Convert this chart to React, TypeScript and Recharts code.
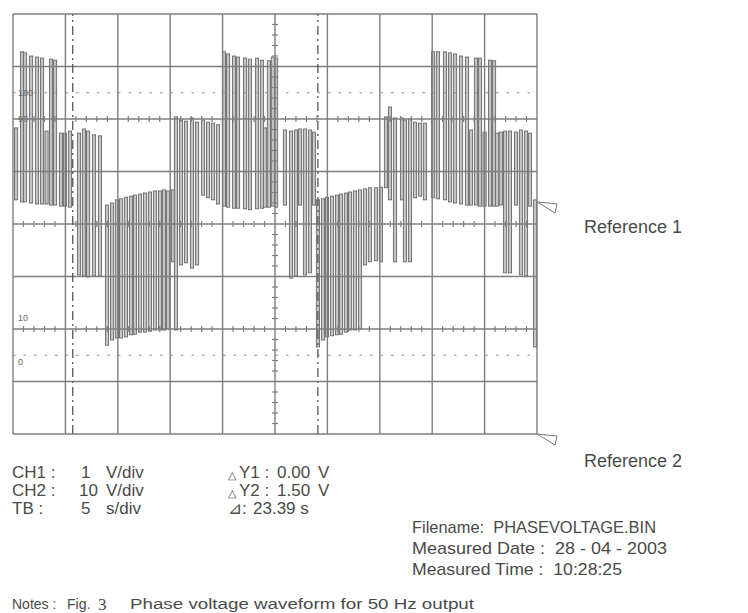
import React from "react";
import {
  ComposedChart,
  Bar,
  Scatter,
  XAxis,
  YAxis,
  ReferenceLine,
  ReferenceDot,
} from "recharts";

// screen: 10 div x 5 s/div, 8 div x 10 V/div
const timeTicks = [0, 5, 10, 15, 20, 25, 30, 35, 40, 45, 50];
const voltTicks = [-40, -30, -20, -10, 0, 10, 20, 30, 40];

// PWM pulses: time (s), upper and lower edge (V)
const pulseTime = [
  0.29, 0.86, 1.15, 1.72, 2.29, 2.77, 3.2, 3.63, 4.01,
  4.58, 4.96, 5.44,
  6.3, 6.77, 7.16, 7.73, 8.3,
  8.97, 9.45, 9.92, 10.31, 10.78, 11.26, 11.64, 12.12, 12.6, 13.07, 13.55, 14.03, 14.41, 14.79,
  15.27, 15.55, 16.03, 16.51, 17.08, 17.56,
  18.13, 18.61, 19.08, 19.56,
  20.13, 20.52, 21.09, 21.47, 22.14, 22.61, 23.28, 23.76, 24.06, 24.42, 24.8, 25.1,
  25.95, 26.53, 27.0, 27.39, 27.86, 28.34, 28.72,
  29.1, 29.58, 29.96, 30.44, 30.92, 31.3, 31.77, 32.16, 32.63, 33.11, 33.59, 34.06, 34.64, 35.11,
  35.59, 35.97, 36.45, 37.12, 37.4, 37.88, 38.36, 38.84, 39.31,
  40.08, 40.55, 41.22, 41.7, 42.18, 42.75, 43.32, 43.7, 44.18, 44.56, 45.0, 45.52, 45.9, 46.2,
  46.55, 46.95, 47.42, 48.0, 48.47, 48.95, 49.33, 49.81,
];
const pulseHigh = [
  18.3, 32.8, 32.6, 32.0, 31.8, 31.6, 17.7, 31.4, 31.2,
  17.3, 17.3, 17.7,
  17.3, 18.1, 17.7, 17.0, 16.8,
  3.6, 4.0, 4.6, 4.8, 5.1, 5.3, 5.5, 5.7, 5.9, 6.1, 6.3, 6.3, 6.5, 6.3,
  6.5, 20.4, 19.8, 19.6, 20.2, 19.4,
  19.8, 19.4, 19.2, 18.9,
  32.8, 32.4, 32.0, 31.8, 31.6, 31.4, 31.6, 31.2, 18.3, 31.1, 31.8, 31.6,
  17.9, 17.7, 17.9, 18.1, 18.1, 17.9, 17.5,
  4.6, 4.8, 5.1, 5.3, 5.5, 5.7, 5.9, 6.1, 6.3, 6.5, 6.7, 6.9, 6.9, 7.0,
  20.4, 22.3, 20.2, 20.2, 19.8, 20.0, 19.4, 19.2, 19.2,
  32.8, 32.8, 32.8, 32.6, 32.4, 32.0, 31.8, 17.9, 31.6, 31.6, 17.5, 31.2, 31.1, 17.3,
  17.5, 17.7, 17.7, 17.5, 17.9, 17.7, 17.3, 4.6,
];
const pulseLow = [
  4.6, 4.2, 4.2, 4.0, 3.8, 3.8, 3.8, 3.6, 3.6,
  3.4, 3.4, 3.2,
  -9.7, -9.9, -10.1, -9.9, -9.9,
  -23.1, -22.1, -21.7, -21.7, -21.5, -21.1, -21.0, -20.6, -20.6, -20.4, -20.2, -20.2, -20.2, -20.0,
  -7.2, -20.2, -7.8, -7.4, -8.4, -7.8,
  5.5, 5.0, 4.6, 3.8,
  3.4, 3.2, 3.0, 3.0, 2.9, 2.7, 2.9, 3.0, 3.2, 3.2, 3.4, 3.2,
  3.6, -10.3, -9.9, 3.6, -9.7, -9.3, 3.6,
  -23.4, -22.1, -21.5, -21.3, -21.1, -21.0, -20.6, -20.2, -20.2, -20.0, -7.8, -7.2, -7.0, -7.2,
  6.9, 4.6, -7.2, 4.6, -7.2, -7.2, 5.0, 5.3, 4.6,
  5.0, 4.8, 4.6, 4.2, 4.0, 3.8, 3.6, 3.6, 3.6, 3.4, 3.4, 3.4, 3.4, 3.4,
  3.6, -9.3, -9.3, 3.6, -9.7, -9.9, 3.4, -23.4,
];

const cursorTimes = [5.7, 29.09];
const dottedLevels = [25, -25];
const tickedLevels = [20, 0, -20];
const labelLevels = [25, 20, -20, -25];
const labelTexts = ["100", "90", "10", "0"];
const refLevels = [4.2, -40];

const pulses = pulseTime.map((t, i) => ({ t, range: [pulseLow[i], pulseHigh[i]] }));

// minor division marks, 5 per division
const minorTimes = timeTicks.slice(0, -1).flatMap((t) => [1, 2, 3, 4].map((k) => t + k));
const minorVolts = voltTicks.slice(0, -1).flatMap((v) => [2, 4, 6, 8].map((k) => v + k));
const hTicks = tickedLevels.flatMap((v) => minorTimes.map((t) => ({ t, v })));
const vTicks = minorVolts.map((v) => ({ t: 25, v }));

const GRID = "#7e7e7e";
const INK = "#4a4a4a";
const FONT = "'Liberation Sans', Arial, sans-serif";

const PulseShape = (props: any) => {
  const { x, y, width, height } = props;
  if (height == null || isNaN(y)) return null;
  const cx = x + width / 2;
  return (
    <rect x={cx - 1.6} y={y} width={3.2} height={height} fill="#c4c4c4" stroke="#6a6a6a" strokeWidth={0.9} />
  );
};

const labelDy = [3, 3, -8, 10];

const App = () => {
  return (
    <div style={{ position: "absolute", left: 0, top: 0, width: 748, height: 613, background: "#fff" }}>
      <ComposedChart
        width={748}
        height={613}
        data={pulses}
        margin={{ top: 14, left: 13, right: 211, bottom: 179 }}
      >
        <XAxis dataKey="t" type="number" domain={[0, 50]} hide allowDataOverflow />
        <YAxis type="number" domain={[-40, 40]} hide allowDataOverflow />
        {timeTicks.map((t) => (
          <ReferenceLine key={"gx" + t} x={t} stroke={GRID} strokeWidth={1.4} />
        ))}
        {voltTicks.map((v) => (
          <ReferenceLine key={"gy" + v} y={v} stroke={GRID} strokeWidth={1.4} />
        ))}
        {dottedLevels.map((v) => (
          <ReferenceLine key={"d" + v} y={v} stroke="#8c8c8c" strokeWidth={1.2} strokeDasharray="2.5 8" />
        ))}
        {labelLevels.map((v, i) => (
          <ReferenceLine
            key={"l" + v}
            y={v}
            stroke="none"
            label={(p: any) => (
              <text x={p.viewBox.x + 5} y={p.viewBox.y + labelDy[i]} fontSize={9} fill="#666" fontFamily={FONT}>
                {labelTexts[i]}
              </text>
            )}
          />
        ))}
        <Scatter
          data={hTicks}
          dataKey="v"
          isAnimationActive={false}
          shape={(p: any) => <line x1={p.cx} x2={p.cx} y1={p.cy - 3} y2={p.cy + 3} stroke={GRID} strokeWidth={1.2} />}
        />
        <Scatter
          data={vTicks}
          dataKey="v"
          isAnimationActive={false}
          shape={(p: any) => <line x1={p.cx - 3} x2={p.cx + 3} y1={p.cy} y2={p.cy} stroke={GRID} strokeWidth={1.2} />}
        />
        <Bar dataKey="range" barSize={3} isAnimationActive={false} shape={PulseShape} />
        {cursorTimes.map((t) => (
          <ReferenceLine key={"c" + t} x={t} stroke="#555" strokeWidth={1.3} strokeDasharray="9 4 2 4" />
        ))}
        {refLevels.map((v) => (
          <ReferenceDot
            key={"r" + v}
            x={50}
            y={v}
            r={0}
            ifOverflow="visible"
            shape={(p: any) => (
              <polygon
                points={`${p.cx},${p.cy} ${p.cx + 20},${p.cy + 2} ${p.cx + 18},${p.cy + 11}`}
                fill="#fff"
                stroke="#777"
                strokeWidth={1}
              />
            )}
          />
        ))}
      </ComposedChart>
      <svg
        width={748}
        height={613}
        style={{ position: "absolute", left: 0, top: 0, pointerEvents: "none" }}
        fontFamily={FONT}
        fill={INK}
      >
        <text x={584} y={233} fontSize={18}>Reference 1</text>
        <text x={584} y={467} fontSize={18}>Reference 2</text>

        <text x={12} y={478} fontSize={17}>CH1 :</text>
        <text x={81} y={478} fontSize={17}>1</text>
        <text x={106} y={478} fontSize={17}>V/div</text>
        <text x={12} y={496} fontSize={17}>CH2 :</text>
        <text x={79} y={496} fontSize={17}>10</text>
        <text x={106} y={496} fontSize={17}>V/div</text>
        <text x={12} y={514} fontSize={17}>TB :</text>
        <text x={81} y={514} fontSize={17}>5</text>
        <text x={106} y={514} fontSize={17}>s/div</text>

        <text x={228} y={479} fontSize={11}>△</text>
        <text x={239} y={478} fontSize={17}>Y1 :</text>
        <text x={277} y={478} fontSize={17}>0.00</text>
        <text x={318} y={478} fontSize={17}>V</text>
        <text x={228} y={497} fontSize={11}>△</text>
        <text x={239} y={496} fontSize={17}>Y2 :</text>
        <text x={277} y={496} fontSize={17}>1.50</text>
        <text x={318} y={496} fontSize={17}>V</text>
        <text x={228} y={514} fontSize={17}>⊿:</text>
        <text x={253} y={514} fontSize={17}>23.39 s</text>

        <text x={412} y={533} fontSize={17} textLength={244} lengthAdjust="spacingAndGlyphs" xmlSpace="preserve">
          Filename:  PHASEVOLTAGE.BIN
        </text>
        <text x={412} y={554} fontSize={17} textLength={255} lengthAdjust="spacingAndGlyphs" xmlSpace="preserve">
          Measured Date :  28 - 04 - 2003
        </text>
        <text x={412} y={575} fontSize={17} textLength={210} lengthAdjust="spacingAndGlyphs" xmlSpace="preserve">
          Measured Time :  10:28:25
        </text>

        <text x={12} y={609} fontSize={14}>Notes :</text>
        <text x={67} y={609} fontSize={14}>Fig.</text>
        <text x={98} y={610} fontSize={17} fontFamily="'Liberation Serif', serif">3</text>
        <text x={130} y={609} fontSize={14} textLength={344} lengthAdjust="spacingAndGlyphs">
          Phase voltage waveform for 50 Hz output
        </text>
      </svg>
    </div>
  );
};

export default App;
